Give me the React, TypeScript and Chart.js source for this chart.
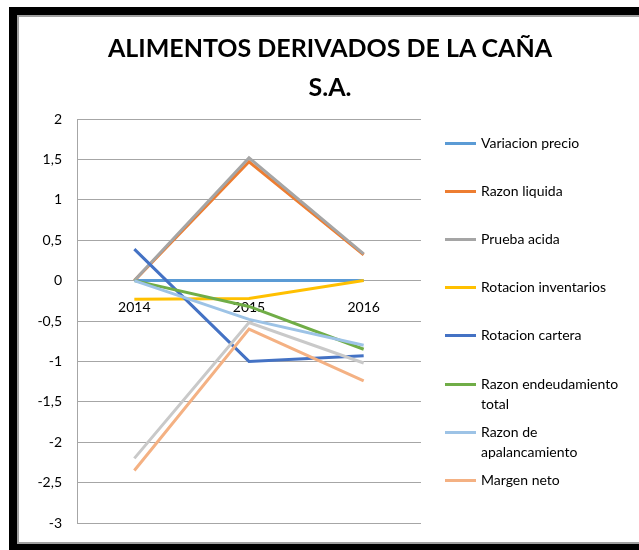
import React, { useEffect, useRef } from "react";
import { Chart, registerables } from "chart.js";

Chart.register(...registerables);

const title = ["ALIMENTOS DERIVADOS DE LA CAÑA", "S.A."];
const years = ["2014", "2015", "2016"];

const seriesNames = [
  "Variacion precio",
  "Razon liquida",
  "Prueba acida",
  "Rotacion inventarios",
  "Rotacion cartera",
  "Razon endeudamiento total",
  "Razon de apalancamiento",
  "Margen neto",
  "Serie 9",
];

const variacionPrecio = [0, 0, 0];
const razonLiquida = [0, 1.47, 0.32];
const pruebaAcida = [0, 1.52, 0.33];
const rotacionInventarios = [-0.23, -0.22, 0];
const rotacionCartera = [0.39, -1.0, -0.93];
const razonEndeudamiento = [0, -0.32, -0.85];
const razonApalancamiento = [0, -0.48, -0.8];
const margenNeto = [-2.35, -0.6, -1.24];
const serie9 = [-2.2, -0.52, -1.02];

const seriesValues = [
  variacionPrecio,
  razonLiquida,
  pruebaAcida,
  rotacionInventarios,
  rotacionCartera,
  razonEndeudamiento,
  razonApalancamiento,
  margenNeto,
  serie9,
];

const colors = [
  "#5B9BD5",
  "#ED7D31",
  "#A5A5A5",
  "#FFC000",
  "#4472C4",
  "#70AD47",
  "#9DC3E6",
  "#F4B183",
  "#C9C9C9",
];

const legendCount = 8;
const FONT = "Lato, 'Open Sans', sans-serif";

export default function App() {
  const ref = useRef<HTMLCanvasElement | null>(null);

  useEffect(() => {
    document.documentElement.style.overflow = "hidden";
    document.documentElement.style.background = "#fff";
    document.body.style.overflow = "hidden";
    document.body.style.margin = "0";
    document.body.style.background = "#fff";
  }, []);

  useEffect(() => {
    if (!ref.current) return;
    const n = seriesNames.length;
    const chart = new Chart(ref.current, {
      type: "line",
      data: {
        labels: years,
        datasets: seriesNames.map((name, i) => ({
          label: name,
          data: seriesValues[i],
          borderColor: colors[i],
          backgroundColor: colors[i],
          borderWidth: 3,
          pointRadius: 0,
          tension: 0,
          fill: false,
          order: n - i,
        })),
      },
      options: {
        animation: false,
        responsive: false,
        maintainAspectRatio: false,
        layout: { padding: { top: 119, bottom: 27, left: 0, right: 218 } },
        plugins: {
          legend: { display: false },
          title: { display: false },
          tooltip: { enabled: false },
        },
        scales: {
          x: {
            type: "category",
            position: { y: 0 } as any,
            offset: true,
            grid: { display: false },
            border: { display: false },
            ticks: {
              padding: 10,
              maxRotation: 0,
              color: "#000",
              font: { family: FONT, size: 14 },
            },
          },
          y: {
            min: -3,
            max: 2,
            grid: { color: "#a6a6a6", lineWidth: 1, drawTicks: false },
            border: { display: true, color: "#a6a6a6", width: 1 },
            ticks: {
              stepSize: 0.5,
              padding: 15,
              color: "#000",
              font: { family: FONT, size: 14 },
              callback: (v: any) => String(v).replace(".", ","),
            },
            afterFit: (s: any) => {
              s.width = 77;
            },
          },
        },
      },
    });
    return () => chart.destroy();
  }, []);

  return (
    <div
      style={{
        position: "fixed",
        left: 0,
        top: 0,
        width: 639,
        height: 550,
        overflow: "hidden",
        background: "#fff",
      }}
    >
      <div
        style={{
          position: "absolute",
          left: 9,
          top: 7,
          width: 1000,
          height: 545,
          boxSizing: "border-box",
          borderLeft: "8px solid #000",
          borderTop: "8px solid #000",
          borderBottom: "8px solid #000",
        }}
      >
        <div
          style={{
            position: "absolute",
            left: 0,
            top: 0,
            right: 0,
            bottom: 0,
            borderLeft: "2px solid #a0a0a0",
            borderTop: "2px solid #a0a0a0",
            borderBottom: "2px solid #a0a0a0",
          }}
        />
      </div>
      <canvas
        ref={ref}
        width={639}
        height={550}
        style={{ position: "absolute", left: 0, top: 0, width: 639, height: 550 }}
      />
      <div
        style={{
          position: "absolute",
          left: 0,
          top: 28,
          width: 660,
          textAlign: "center",
          fontFamily: FONT,
          fontWeight: 700,
          fontSize: 25,
          lineHeight: "39px",
          color: "#000",
        }}
      >
        {title.map((t, i) => (
          <div key={i}>{t}</div>
        ))}
      </div>
      {seriesNames.slice(0, legendCount).map((name, i) => (
        <div
          key={name}
          style={{
            position: "absolute",
            left: 445,
            top: 143 + i * 48.1 - 10,
            display: "flex",
            alignItems: "flex-start",
          }}
        >
          <div
            style={{
              width: 31,
              height: 3,
              marginTop: 9,
              background: colors[i],
              flex: "0 0 auto",
            }}
          />
          <div
            style={{
              marginLeft: 5,
              width: 150,
              fontFamily: FONT,
              fontSize: 14,
              lineHeight: "20px",
              color: "#000",
            }}
          >
            {name}
          </div>
        </div>
      ))}
    </div>
  );
}
